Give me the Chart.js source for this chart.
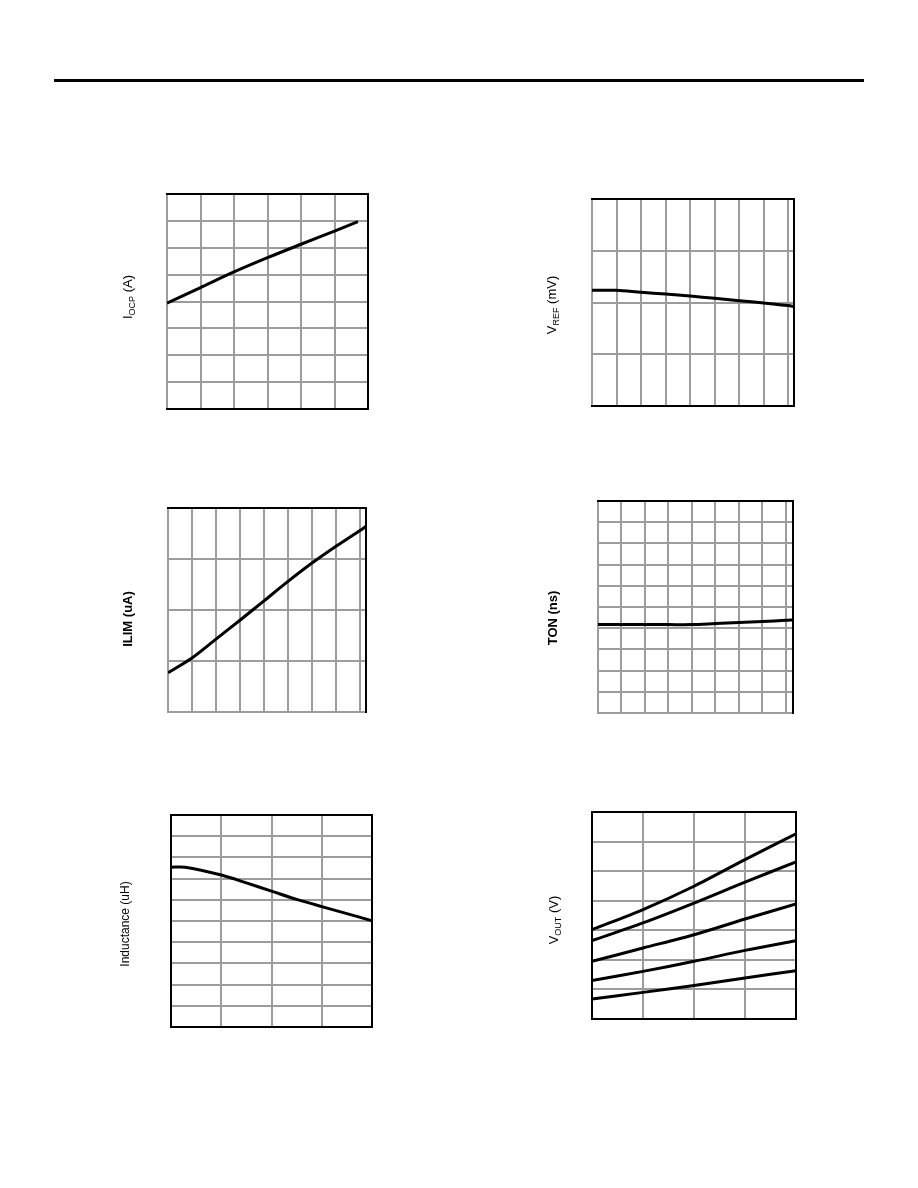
<!DOCTYPE html>
<html lang="en">
<head>
  <meta charset="UTF-8">
  <title>Typical Performance Curves</title>
  <script src="https://cdn.jsdelivr.net/npm/chart.js"></script>
  <style>
    body {
      margin: 0;
      background: #fff;
      font-family: "Liberation Sans", Arial, sans-serif;
    }
    #page {
      position: relative;
      width: 918px;
      height: 1188px;
    }
    #rule {
      position: absolute;
      left: 54px;
      top: 79px;
      width: 810px;
      height: 3px;
      background: #000;
    }
    canvas {
      position: absolute;
    }
  </style>
</head>
<body>
<div id="page">
  <div id="rule"></div>
</div>

<script>
  // values are in grid units, the plots carry no tick labels
  // I_OCP (A)
  const ocpX = [0, 1, 2, 3, 4, 5, 5.7];
  const ocpY = [3.94, 4.52, 5.1, 5.63, 6.13, 6.62, 6.97];
  const ocpXTicks = [0, 1, 2, 3, 4, 5, 6];
  const ocpYTicks = [0, 1, 2, 3, 4, 5, 6, 7, 8];

  // V_REF (mV)
  const vrefX = [0, 1, 2, 3, 4, 5, 6, 7, 8, 8.23];
  const vrefY = [2.235, 2.235, 2.196, 2.162, 2.126, 2.08, 2.035, 1.99, 1.94, 1.92];
  const vrefXTicks = [0, 1, 2, 3, 4, 5, 6, 7, 8];
  const vrefYTicks = [0, 1, 2, 3, 4];

  // ILIM (uA)
  const ilimX = [0, 1, 2, 3, 4, 5, 6, 7, 8, 8.25];
  const ilimY = [0.77, 1.06, 1.43, 1.8, 2.18, 2.56, 2.92, 3.25, 3.56, 3.64];
  const ilimXTicks = [0, 1, 2, 3, 4, 5, 6, 7, 8];
  const ilimYTicks = [0, 1, 2, 3, 4];

  // TON (ns)
  const tonX = [0, 1, 2, 3, 4, 5, 6, 7, 8, 8.3];
  const tonY = [4.17, 4.17, 4.17, 4.17, 4.17, 4.22, 4.27, 4.32, 4.37, 4.39];
  const tonXTicks = [0, 1, 2, 3, 4, 5, 6, 7, 8];
  const tonYTicks = [0, 1, 2, 3, 4, 5, 6, 7, 8, 9, 10];

  // Inductance (uH)
  const indX = [0, 0.28, 1, 1.5, 2, 2.5, 3, 3.5, 4];
  const indY = [7.54, 7.54, 7.17, 6.8, 6.41, 6.02, 5.68, 5.35, 5.01];
  const indXTicks = [0, 1, 2, 3, 4];
  const indYTicks = [0, 1, 2, 3, 4, 5, 6, 7, 8, 9, 10];

  // V_OUT (V), five curves
  const voutX = [0, 1, 2, 3, 4];
  const voutY1 = [3.02, 3.7, 4.49, 5.39, 6.26];
  const voutY2 = [2.65, 3.25, 3.92, 4.63, 5.31];
  const voutY3 = [1.95, 2.4, 2.85, 3.38, 3.89];
  const voutY4 = [1.3, 1.61, 1.95, 2.32, 2.65];
  const voutY5 = [0.68, 0.9, 1.13, 1.39, 1.63];
  const voutXTicks = [0, 1, 2, 3, 4];
  const voutYTicks = [0, 1, 2, 3, 4, 5, 6, 7];

  const PAD = {left: 80, right: 12, top: 12, bottom: 12};
  const GRID = '#9c9c9c';
  const FONT = '"Liberation Sans", Arial, sans-serif';

  function pts(xs, ys) {
    return xs.map((x, i) => ({x: x, y: ys[i]}));
  }

  function fixedTicks(vals) {
    return scale => { scale.ticks = vals.map(v => ({value: v})); };
  }

  // rotated y axis title with optional subscript parts
  const axisTitle = {
    id: 'axisTitle',
    afterDraw(chart, args, opts) {
      const ctx = chart.ctx;
      const size = opts.size;
      const weight = opts.bold ? 'bold ' : '';
      const fontOf = p => weight + (p.sub ? Math.round(size * 0.7) : size) + 'px ' + FONT;
      ctx.save();
      ctx.translate(opts.x, opts.y);
      ctx.rotate(-Math.PI / 2);
      ctx.fillStyle = '#000';
      ctx.textAlign = 'left';
      ctx.textBaseline = 'alphabetic';
      let total = 0;
      opts.parts.forEach(p => { ctx.font = fontOf(p); total += ctx.measureText(p.text).width; });
      let x = -total / 2;
      opts.parts.forEach(p => {
        ctx.font = fontOf(p);
        ctx.fillText(p.text, x, size * 0.36 + (p.sub ? size * 0.28 : 0));
        x += ctx.measureText(p.text).width;
      });
      ctx.restore();
    }
  };

  function plot(c) {
    const cv = document.createElement('canvas');
    const left = c.box.l - PAD.left;
    const top = c.box.t - PAD.top;
    cv.width = c.box.r - c.box.l + PAD.left + PAD.right;
    cv.height = c.box.b - c.box.t + PAD.top + PAD.bottom;
    cv.style.left = left + 'px';
    cv.style.top = top + 'px';
    document.getElementById('page').appendChild(cv);

    const edge = {
      type: 'linear', min: 0, max: 1,
      ticks: {display: false},
      grid: {display: false, drawTicks: false},
      border: {display: true, color: '#000', width: 2}
    };

    new Chart(cv, {
      type: 'line',
      data: {
        datasets: c.series.map(s => ({
          data: s,
          borderColor: '#000',
          borderWidth: 3,
          pointRadius: 0,
          tension: 0.3,
          fill: false
        }))
      },
      options: {
        responsive: false,
        animation: false,
        events: [],
        layout: {padding: PAD},
        plugins: {
          legend: {display: false},
          tooltip: {enabled: false},
          axisTitle: Object.assign({}, c.title, {x: c.title.x - left, y: c.title.y - top})
        },
        scales: {
          y: {
            type: 'linear', min: c.yr[0], max: c.yr[1],
            afterBuildTicks: fixedTicks(c.yt),
            ticks: {display: false},
            grid: {color: GRID, lineWidth: 2, drawTicks: false},
            border: {display: true, color: c.leftColor, width: 2}
          },
          x: {
            type: 'linear', min: c.xr[0], max: c.xr[1],
            afterBuildTicks: fixedTicks(c.xt),
            ticks: {display: false},
            grid: {color: GRID, lineWidth: 2, drawTicks: false},
            border: {display: true, color: c.bottomColor, width: 2}
          },
          xTop: Object.assign({}, edge, {position: 'top'}),
          yRight: Object.assign({}, edge, {position: 'right'})
        }
      },
      plugins: [axisTitle]
    });
  }

  plot({
    box: {l: 167, t: 194, r: 368, b: 409},
    xr: [0, 6], yr: [0, 8], xt: ocpXTicks, yt: ocpYTicks,
    series: [pts(ocpX, ocpY)],
    leftColor: GRID, bottomColor: '#000',
    title: {x: 127, y: 297, size: 13, parts: [{text: 'I'}, {text: 'OCP', sub: true}, {text: ' (A)'}]}
  });

  plot({
    box: {l: 592, t: 199, r: 794, b: 406},
    xr: [0, 8.23], yr: [0, 4], xt: vrefXTicks, yt: vrefYTicks,
    series: [pts(vrefX, vrefY)],
    leftColor: GRID, bottomColor: '#000',
    title: {x: 551, y: 305, size: 13, parts: [{text: 'V'}, {text: 'REF', sub: true}, {text: ' (mV)'}]}
  });

  plot({
    box: {l: 168, t: 508, r: 366, b: 712},
    xr: [0, 8.25], yr: [0, 4], xt: ilimXTicks, yt: ilimYTicks,
    series: [pts(ilimX, ilimY)],
    leftColor: GRID, bottomColor: GRID,
    title: {x: 127, y: 619, size: 13, bold: true, parts: [{text: 'ILIM (uA)'}]}
  });

  plot({
    box: {l: 598, t: 501, r: 793, b: 713},
    xr: [0, 8.3], yr: [0, 10], xt: tonXTicks, yt: tonYTicks,
    series: [pts(tonX, tonY)],
    leftColor: GRID, bottomColor: GRID,
    title: {x: 552, y: 618, size: 13, bold: true, parts: [{text: 'TON (ns)'}]}
  });

  plot({
    box: {l: 171, t: 815, r: 372, b: 1027},
    xr: [0, 4], yr: [0, 10], xt: indXTicks, yt: indYTicks,
    series: [pts(indX, indY)],
    leftColor: '#000', bottomColor: '#000',
    title: {x: 125, y: 924, size: 12, parts: [{text: 'Inductance (uH)'}]}
  });

  plot({
    box: {l: 592, t: 812, r: 796, b: 1019},
    xr: [0, 4], yr: [0, 7], xt: voutXTicks, yt: voutYTicks,
    series: [pts(voutX, voutY1), pts(voutX, voutY2), pts(voutX, voutY3), pts(voutX, voutY4), pts(voutX, voutY5)],
    leftColor: '#000', bottomColor: '#000',
    title: {x: 553, y: 920, size: 13, parts: [{text: 'V'}, {text: 'OUT', sub: true}, {text: ' (V)'}]}
  });
</script>
</body>
</html>
